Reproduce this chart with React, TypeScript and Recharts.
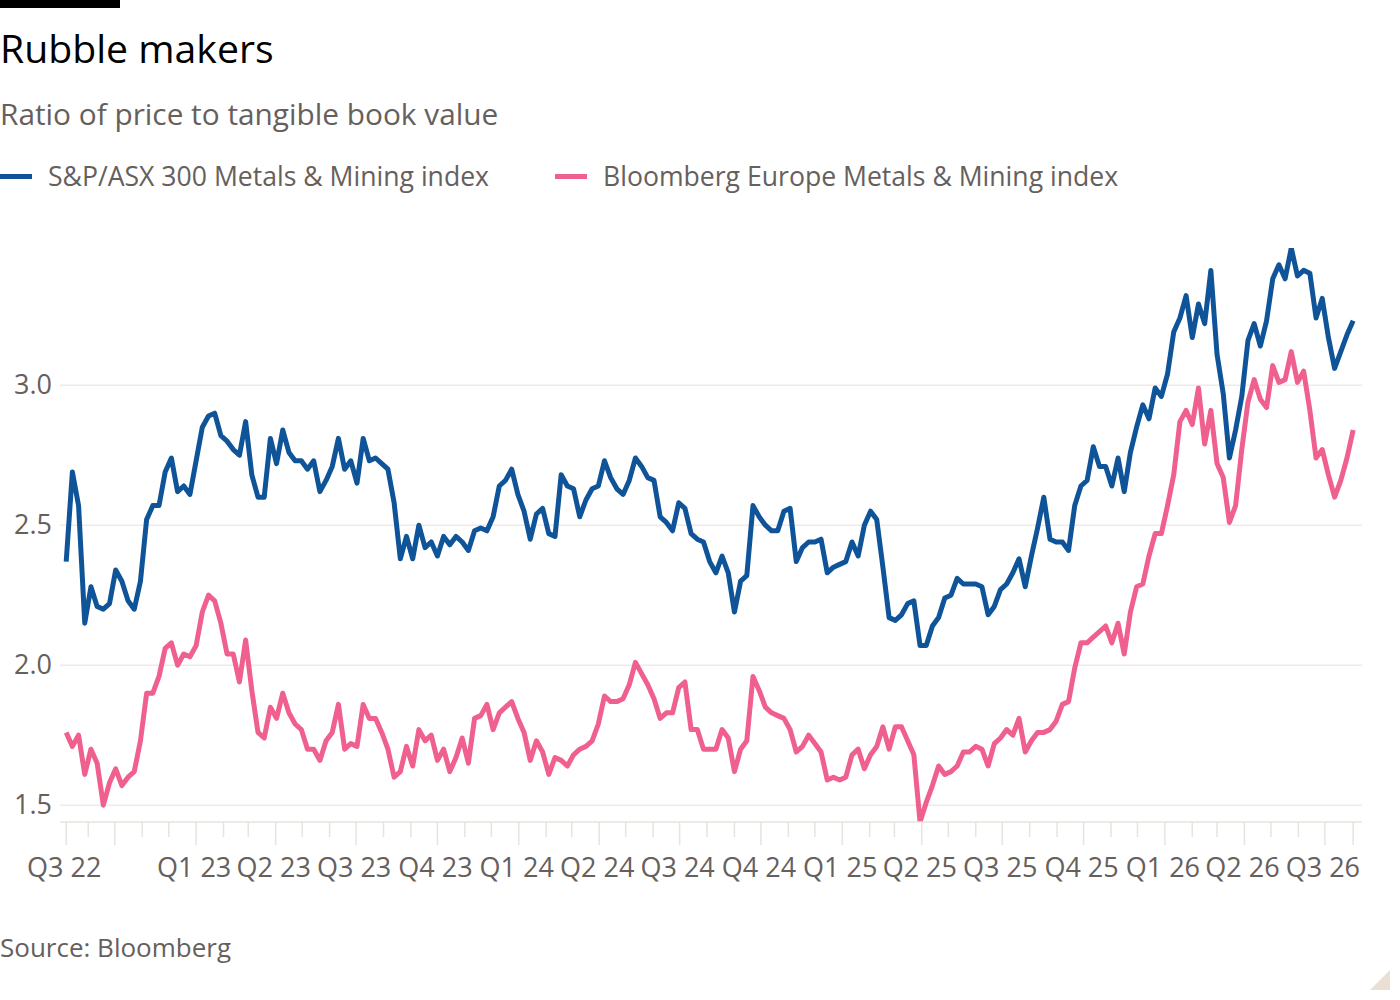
import React from 'react';
import { LineChart, Line, XAxis, YAxis, CartesianGrid } from 'recharts';

const BLUE = '#0f5499';
const PINK = '#f0608f';
const GREY_TEXT = '#66605c';
const GRID = '#efebe7';
const FONT = '"Open Sans", sans-serif';

// weekly observations, first one on this date
const START_DATE = '2022-08-07';
const DAY = 24 * 3600 * 1000;

// S&P/ASX 300 Metals & Mining index
const asxValues = [
  2.37, 2.69, 2.57, 2.15, 2.28, 2.21, 2.20, 2.22, 2.34, 2.30,
  2.23, 2.20, 2.30, 2.52, 2.57, 2.57, 2.69, 2.74, 2.62, 2.64,
  2.61, 2.73, 2.85, 2.89, 2.90, 2.82, 2.80, 2.77, 2.75, 2.87,
  2.68, 2.60, 2.60, 2.81, 2.72, 2.84, 2.76, 2.73, 2.73, 2.70,
  2.73, 2.62, 2.66, 2.71, 2.81, 2.70, 2.73, 2.65, 2.81, 2.73,
  2.74, 2.72, 2.70, 2.58, 2.38, 2.46, 2.38, 2.50, 2.42, 2.44,
  2.39, 2.46, 2.43, 2.46, 2.44, 2.41, 2.48, 2.49, 2.48, 2.53,
  2.64, 2.66, 2.70, 2.61, 2.55, 2.45, 2.54, 2.56, 2.47, 2.46,
  2.68, 2.64, 2.63, 2.53, 2.59, 2.63, 2.64, 2.73, 2.67, 2.63,
  2.61, 2.66, 2.74, 2.71, 2.67, 2.66, 2.53, 2.51, 2.48, 2.58,
  2.56, 2.47, 2.45, 2.44, 2.37, 2.33, 2.39, 2.33, 2.19, 2.30,
  2.32, 2.57, 2.53, 2.50, 2.48, 2.48, 2.55, 2.56, 2.37, 2.42,
  2.44, 2.44, 2.45, 2.33, 2.35, 2.36, 2.37, 2.44, 2.39, 2.50,
  2.55, 2.52, 2.35, 2.17, 2.16, 2.18, 2.22, 2.23, 2.07, 2.07,
  2.14, 2.17, 2.24, 2.25, 2.31, 2.29, 2.29, 2.29, 2.28, 2.18,
  2.21, 2.27, 2.29, 2.33, 2.38, 2.28, 2.39, 2.49, 2.60, 2.45,
  2.44, 2.44, 2.41, 2.57, 2.64, 2.66, 2.78, 2.71, 2.71, 2.64,
  2.74, 2.62, 2.76, 2.85, 2.93, 2.88, 2.99, 2.96, 3.04, 3.19,
  3.24, 3.32, 3.17, 3.29, 3.22, 3.41, 3.11, 2.97, 2.74, 2.84,
  2.96, 3.16, 3.22, 3.14, 3.23, 3.38, 3.43, 3.38, 3.49, 3.39,
  3.41, 3.40, 3.24, 3.31, 3.17, 3.06, 3.12, 3.18, 3.23,
];

// Bloomberg Europe Metals & Mining index
const europeValues = [
  1.76, 1.71, 1.75, 1.61, 1.70, 1.65, 1.50, 1.58, 1.63, 1.57,
  1.60, 1.62, 1.73, 1.90, 1.90, 1.96, 2.06, 2.08, 2.00, 2.04,
  2.03, 2.07, 2.19, 2.25, 2.23, 2.15, 2.04, 2.04, 1.94, 2.09,
  1.91, 1.76, 1.74, 1.85, 1.81, 1.90, 1.83, 1.79, 1.77, 1.70,
  1.70, 1.66, 1.73, 1.76, 1.86, 1.70, 1.72, 1.71, 1.86, 1.81,
  1.81, 1.76, 1.70, 1.60, 1.62, 1.71, 1.64, 1.77, 1.73, 1.75,
  1.66, 1.70, 1.62, 1.67, 1.74, 1.65, 1.81, 1.82, 1.86, 1.77,
  1.83, 1.85, 1.87, 1.81, 1.76, 1.66, 1.73, 1.69, 1.61, 1.67,
  1.66, 1.64, 1.68, 1.70, 1.71, 1.73, 1.79, 1.89, 1.87, 1.87,
  1.88, 1.93, 2.01, 1.97, 1.93, 1.88, 1.81, 1.83, 1.83, 1.92,
  1.94, 1.77, 1.77, 1.70, 1.70, 1.70, 1.77, 1.74, 1.62, 1.70,
  1.73, 1.96, 1.91, 1.85, 1.83, 1.82, 1.81, 1.77, 1.69, 1.71,
  1.75, 1.72, 1.69, 1.59, 1.60, 1.59, 1.60, 1.68, 1.70, 1.63,
  1.68, 1.71, 1.78, 1.70, 1.78, 1.78, 1.73, 1.68, 1.44, 1.51,
  1.57, 1.64, 1.61, 1.62, 1.64, 1.69, 1.69, 1.71, 1.70, 1.64,
  1.72, 1.74, 1.77, 1.75, 1.81, 1.69, 1.73, 1.76, 1.76, 1.77,
  1.80, 1.86, 1.87, 1.99, 2.08, 2.08, 2.10, 2.12, 2.14, 2.08,
  2.15, 2.04, 2.19, 2.28, 2.29, 2.39, 2.47, 2.47, 2.57, 2.68,
  2.87, 2.91, 2.86, 2.99, 2.79, 2.91, 2.72, 2.67, 2.51, 2.57,
  2.77, 2.94, 3.02, 2.95, 2.92, 3.07, 3.01, 3.02, 3.12, 3.01,
  3.05, 2.91, 2.74, 2.77, 2.68, 2.60, 2.66, 2.74, 2.84,
];

const yTicks = [1.5, 2.0, 2.5, 3.0];

// quarter starts and their labels (Q4 22 has no room for a label)
const quarterDates = [
  '2022-10-01', '2023-01-01', '2023-04-01', '2023-07-01', '2023-10-01',
  '2024-01-01', '2024-04-01', '2024-07-01', '2024-10-01', '2025-01-01',
  '2025-04-01', '2025-07-01', '2025-10-01', '2026-01-01', '2026-04-01',
  '2026-07-01',
];
const quarterLabels = [
  '', 'Q1 23', 'Q2 23', 'Q3 23', 'Q4 23', 'Q1 24', 'Q2 24', 'Q3 24', 'Q4 24',
  'Q1 25', 'Q2 25', 'Q3 25', 'Q4 25', 'Q1 26', 'Q2 26', 'Q3 26',
];
const firstLabel = 'Q3 22';

const startTs = Date.parse(START_DATE);
const data = asxValues.map((v, i) => ({
  date: startTs + i * 7 * DAY,
  asx: v,
  europe: europeValues[i],
}));
const endTs = data[data.length - 1].date;

// month ticks between the ends, taller ones on quarters
type TickInfo = { tall: boolean; label: string };
const tickMap = new Map<number, TickInfo>();
tickMap.set(startTs, { tall: true, label: firstLabel });
for (let y = 2022; y <= 2026; y++) {
  for (let m = 0; m < 12; m++) {
    const ts = Date.UTC(y, m, 1);
    if (ts <= startTs || ts >= endTs - 3 * DAY) continue;
    tickMap.set(ts, { tall: false, label: '' });
  }
}
quarterDates.forEach((d, i) => {
  tickMap.set(Date.parse(d), { tall: true, label: quarterLabels[i] });
});
tickMap.set(endTs, { tall: true, label: '' });
const xTicks = Array.from(tickMap.keys()).sort((a, b) => a - b);

const XTick = (props: any) => {
  const { x, y, payload } = props;
  const info = tickMap.get(payload.value) || { tall: false, label: '' };
  return (
    <g>
      <line x1={x} x2={x} y1={y} y2={y + (info.tall ? 23 : 15)} stroke="#e8e3de" strokeWidth={1.5} />
      {info.label && (
        <text x={x - 2} y={y + 55} textAnchor="middle" fill={GREY_TEXT} fontSize={27} fontFamily={FONT}>
          {info.label}
        </text>
      )}
    </g>
  );
};

const YTick = (props: any) => {
  const { y, payload } = props;
  return (
    <text x={52} y={y + 9} textAnchor="end" fill={GREY_TEXT} fontSize={27} fontFamily={FONT}>
      {payload.value.toFixed(1)}
    </text>
  );
};

const LegendItem = ({ color, label, left }: { color: string; label: string; left: number }) => (
  <div style={{ position: 'absolute', left, top: 158, height: 36, display: 'flex', alignItems: 'center' }}>
    <div style={{ width: 32, height: 5, background: color, marginRight: 16 }} />
    <span style={{ fontSize: 26.6, color: GREY_TEXT, lineHeight: '36px', whiteSpace: 'nowrap' }}>{label}</span>
  </div>
);

export default function App() {
  return (
    <div
      style={{
        position: 'absolute', left: 0, top: 0, width: 1400, height: 1000,
        background: '#fff', overflow: 'hidden', fontFamily: FONT,
      }}
    >
      <div style={{ position: 'absolute', left: 0, top: 0, width: 120, height: 8, background: '#000' }} />
      <div style={{ position: 'absolute', left: 0, top: 26, fontSize: 39.2, lineHeight: '44px', color: '#000' }}>
        Rubble makers
      </div>
      <div style={{ position: 'absolute', left: 0, top: 96, fontSize: 29.8, lineHeight: '36px', color: GREY_TEXT }}>
        Ratio of price to tangible book value
      </div>
      <LegendItem color={BLUE} label="S&P/ASX 300 Metals & Mining index" left={0} />
      <LegendItem color={PINK} label="Bloomberg Europe Metals & Mining index" left={555} />

      <div style={{ position: 'absolute', left: 0, top: 0 }}>
        <LineChart width={1400} height={900} data={data} margin={{ top: 248, right: 38, bottom: 18, left: 0 }}>
          <CartesianGrid vertical={false} horizontalValues={yTicks} stroke={GRID} strokeWidth={1.5} />
          <XAxis
            dataKey="date"
            type="number"
            domain={[startTs - 7 * DAY, endTs + 10 * DAY]}
            ticks={xTicks}
            interval={0}
            tick={<XTick />}
            tickLine={false}
            tickSize={0}
            tickMargin={0}
            height={60}
            axisLine={{ stroke: '#e8e3de', strokeWidth: 1.5 }}
            allowDataOverflow
          />
          <YAxis
            type="number"
            domain={[1.44, 3.49]}
            ticks={yTicks}
            width={60}
            axisLine={false}
            tickLine={false}
            tick={<YTick />}
            allowDataOverflow
          />
          <Line
            type="linear"
            dataKey="asx"
            stroke={BLUE}
            strokeWidth={5}
            dot={false}
            strokeLinejoin="round"
            isAnimationActive={false}
          />
          <Line
            type="linear"
            dataKey="europe"
            stroke={PINK}
            strokeWidth={5}
            dot={false}
            strokeLinejoin="round"
            isAnimationActive={false}
          />
        </LineChart>
      </div>

      <div style={{ position: 'absolute', left: 0, top: 929, fontSize: 26, lineHeight: '36px', color: GREY_TEXT }}>
        Source: Bloomberg
      </div>
      <svg style={{ position: 'absolute', left: 1370, top: 970 }} width={21} height={21}>
        <polygon points="20,0 20,20 0,20" fill="#ebdfd1" />
      </svg>
    </div>
  );
}
